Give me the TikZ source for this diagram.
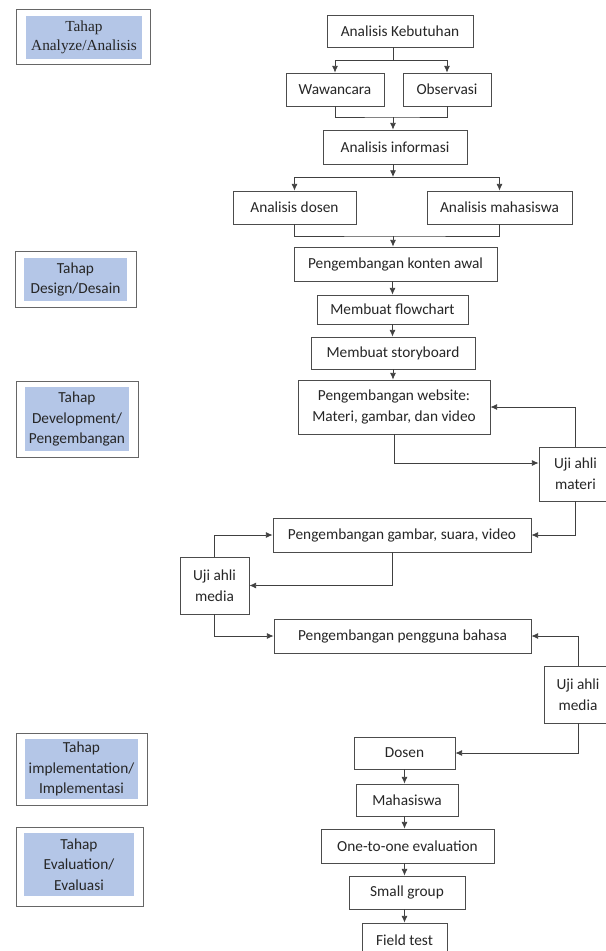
\documentclass[tikz,border=0pt]{standalone}
\usepackage{fontspec}
\setmainfont{Carlito}
\newfontfamily\timesfont{Liberation Serif}
\usetikzlibrary{arrows.meta, calc, positioning}
\definecolor{tahapblue}{RGB}{180,198,231}
\tikzstyle{box} = [rectangle, draw=black!70, line width=0.6pt, align=center,
	inner sep=1pt, text=black!85, font=\fontsize{11.5}{15.5}\selectfont]
\tikzstyle{tahap} = [rectangle, draw=black!60, line width=0.7pt]
\tikzstyle{tahapfill} = [rectangle, fill=tahapblue, align=center, inner sep=0pt,
	text=black!85, font=\fontsize{11.5}{15.5}\selectfont]
\tikzstyle{arrow} = [->, >={Latex[length=5pt, width=4.5pt]}, line width=0.6pt, draw=black!75]
\tikzstyle{link} = [line width=0.6pt, draw=black!75]

\begin{document}
\begin{tikzpicture}[x=0.75pt, y=-0.75pt]
	% page
	\fill[white] (0,0) rectangle (606,951);
	\useasboundingbox (0,0) rectangle (606,951);

	% set up phase labels
	\node (analyze) [tahap, minimum width=100.5pt, minimum height=41.25pt] at (83,36.5) {};
	\node (analyze-t) [tahapfill, minimum width=87pt, minimum height=32.25pt, font=\timesfont\fontsize{11.5}{14}\selectfont] at (84,37.5) {Tahap\\Analyze/Analisis};
	\node (design) [tahap, minimum width=90.75pt, minimum height=42pt] at (75.5,279) {};
	\node (design-t) [tahapfill, minimum width=77.25pt, minimum height=32.25pt] at (75.5,279.5) {Tahap\\Design/Desain};
	\node (development) [tahap, minimum width=91.5pt, minimum height=57pt] at (77,419) {};
	\node (development-t) [tahapfill, minimum width=78pt, minimum height=48pt] at (77,419) {Tahap\\Development/\\Pengembangan};
	\node (implementation) [tahap, minimum width=98.25pt, minimum height=54pt] at (81.5,769) {};
	\node (implementation-t) [tahapfill, minimum width=84.75pt, minimum height=45pt] at (81.5,769) {Tahap\\implementation/\\Implementasi};
	\node (evaluation) [tahap, minimum width=95.25pt, minimum height=59.25pt] at (79.5,866.5) {};
	\node (evaluation-t) [tahapfill, minimum width=82.5pt, minimum height=47.25pt] at (79,864.5) {Tahap\\Evaluation/\\Evaluasi};

	% set up nodes
	\node (kebutuhan) [box, minimum width=109.5pt, minimum height=24pt] at (400,31) {Analisis Kebutuhan};
	\node (wawancara) [box, minimum width=73.5pt, minimum height=24.75pt] at (335,89.5) {Wawancara};
	\node (observasi) [box, minimum width=66pt, minimum height=24.75pt] at (447,89.5) {Observasi};
	\node (info) [box, minimum width=108pt, minimum height=25.5pt] at (395,147) {Analisis informasi};
	\node (dosen-a) [box, minimum width=92.25pt, minimum height=24.75pt] at (294.5,207.5) {Analisis dosen};
	\node (mhs-a) [box, minimum width=108.75pt, minimum height=24.75pt] at (499.5,207.5) {Analisis mahasiswa};
	\node (konten) [box, minimum width=152.25pt, minimum height=25.5pt] at (395.5,264) {Pengembangan konten awal};
	\node (flowchart) [box, minimum width=113.25pt, minimum height=21.75pt] at (392.5,309.5) {Membuat flowchart};
	\node (storyboard) [box, minimum width=123pt, minimum height=24pt] at (393,353) {Membuat storyboard};
	\node (website) [box, minimum width=144pt, minimum height=40.5pt] at (394,407) {Pengembangan website:\\Materi, gambar, dan video};
	\node (uji-materi) [box, minimum width=54.75pt, minimum height=40.5pt] at (575.5,474) {Uji ahli\\materi};
	\node (gambar) [box, minimum width=193.5pt, minimum height=25.5pt] at (402,535) {Pengembangan gambar, suara, video};
	\node (uji-media1) [box, minimum width=51.75pt, minimum height=42.75pt] at (214.5,585.5) {Uji ahli\\media};
	\node (bahasa) [box, minimum width=192.75pt, minimum height=25.5pt] at (402.5,636) {Pengembangan pengguna bahasa};
	\node (uji-media2) [box, minimum width=51pt, minimum height=42.75pt] at (578,694.5) {Uji ahli\\media};
	\node (dosen) [box, minimum width=75.75pt, minimum height=24pt] at (404.5,753) {Dosen};
	\node (mahasiswa) [box, minimum width=76.5pt, minimum height=24pt] at (407,800) {Mahasiswa};
	\node (one-to-one) [box, minimum width=129.75pt, minimum height=25.5pt] at (407.5,846) {One-to-one evaluation};
	\node (small-group) [box, minimum width=87pt, minimum height=24.75pt] at (407,892.5) {Small group};
	\node (field-test) [box, minimum width=63.75pt, minimum height=25.5pt] at (404.5,940) {Field test};

	% analysis branches
	\coordinate (split-a) at (393,60);
	\coordinate (join-a) at (393,117);
	\coordinate (split-b) at (393,177);
	\coordinate (join-b) at (393,236);
	\draw[link] (kebutuhan.south -| split-a) -- (split-a);
	\draw[arrow] (split-a) -| (wawancara.north);
	\draw[arrow] (split-a) -| (observasi.north);
	\draw[link] (wawancara.south) |- (join-a) -| (observasi.south);
	\draw[arrow] (join-a) -- (join-a |- info.north);
	\draw[arrow] (info.south -| split-b) -- (split-b);
	\draw[arrow] (split-b) -| (dosen-a.north);
	\draw[arrow] (split-b) -| (mhs-a.north);
	\draw[link] (dosen-a.south) |- (join-b) -| (mhs-a.south);
	\draw[arrow] (join-b) -- (join-b |- konten.north);

	% design steps
	\draw[arrow] (konten.south -| flowchart.north) -- (flowchart.north);
	\draw[arrow] (flowchart.south) -- (flowchart.south |- storyboard.north);
	\draw[arrow] (storyboard.south) -- (storyboard.south |- website.north);

	% expert review loops
	\draw[arrow] (website.south) |- ([yshift=8.25pt]uji-materi.west);
	\draw[arrow] (uji-materi.north) |- (website.east);
	\draw[arrow] (uji-materi.south) |- (gambar.east);
	\draw[arrow] ([xshift=-7.5pt]gambar.south) |- (uji-media1.east);
	\draw[arrow] (uji-media1.north) |- (gambar.west);
	\draw[arrow] (uji-media1.south) |- (bahasa.west);
	\draw[arrow] (uji-media2.north) |- (bahasa.east);
	\draw[arrow] (uji-media2.south) |- (dosen.east);

	% implementation and evaluation
	\draw[arrow] (dosen.south) -- (dosen.south |- mahasiswa.north);
	\draw[arrow] (mahasiswa.south -| dosen.south) -- (dosen.south |- one-to-one.north);
	\draw[arrow] (one-to-one.south -| dosen.south) -- (dosen.south |- small-group.north);
	\draw[arrow] (small-group.south -| dosen.south) -- (dosen.south |- field-test.north);

\end{tikzpicture}
\end{document}
